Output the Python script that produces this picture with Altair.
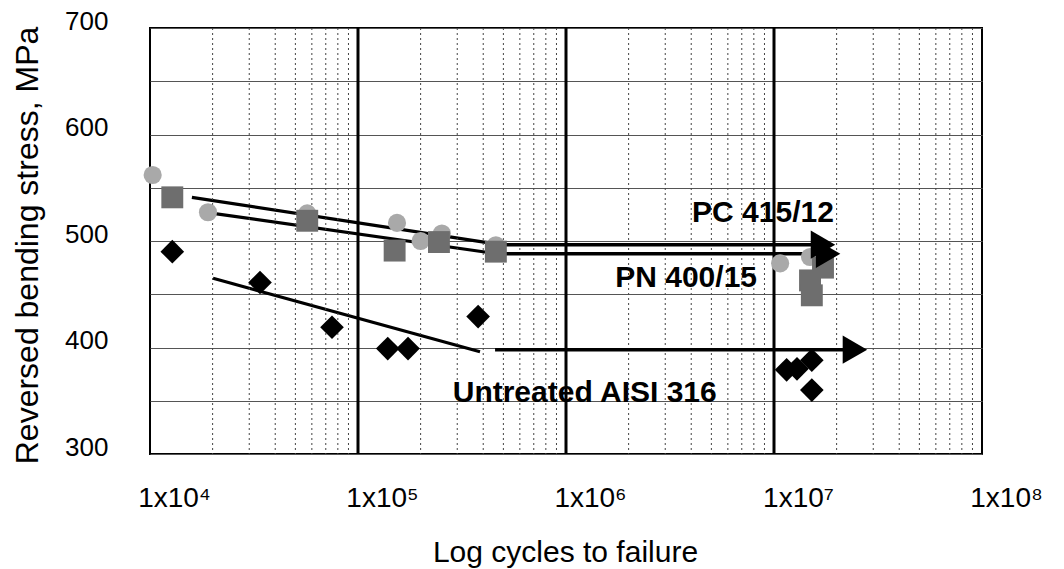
import altair as alt
import pandas as pd

# ---------------- data ----------------
# PC 415/12 (light grey circles)
pc_cycles = [10300, 19000, 57000, 154000, 200000, 253000, 460000, 10700000, 14900000]
pc_stress = [562, 527, 526, 517, 500, 507, 496, 479, 485]
# PN 400/15 (dark grey squares)
pn_cycles = [12800, 57000, 150000, 245000, 460000, 17200000, 14900000, 15200000]
pn_stress = [541, 519, 491, 499, 490, 475, 463, 449]
# Untreated AISI 316 (black diamonds)
un_cycles = [12800, 33800, 75000, 139000, 174000, 378000, 11500000, 12900000, 15200000, 15200000]
un_stress = [490, 461, 419, 399, 399, 429, 379, 380, 388, 360]

# fitted lines
fit_series = ["PC", "PC", "PN", "PN", "UN", "UN"]
fit_cycles = [15900, 466000, 20100, 466000, 20100, 386000]
fit_stress = [541, 497, 526, 488, 465, 396]

# run-out arrows
arrow_start = [466000, 466000, 456000]
arrow_end = [17200000, 18200000, 24500000]
arrow_stress = [496.5, 488, 398]

# labels
label_text = ["PC 415/12", "PN 400/15", "Untreated AISI 316"]
label_cycles = [8850000, 3780000, 1230000]
label_stress = [526, 465, 357]

# axis ticks
decades = [1e4, 1e5, 1e6, 1e7, 1e8]
major_lines = [1e5, 1e6, 1e7]
minor_lines = [m * d for d in [1e4, 1e5, 1e6, 1e7] for m in range(2, 10)]
y_ticks = [300, 350, 400, 450, 500, 550, 600, 650, 700]

FONT = "Liberation Sans"

pc_df = pd.DataFrame({"n": pc_cycles, "s": pc_stress})
pn_df = pd.DataFrame({"n": pn_cycles, "s": pn_stress})
un_df = pd.DataFrame({"n": un_cycles, "s": un_stress})
fit_df = pd.DataFrame({"series": fit_series, "n": fit_cycles, "s": fit_stress})
arr_df = pd.DataFrame({"n": arrow_start, "n2": arrow_end, "s": arrow_stress})
lab_df = pd.DataFrame({"t": label_text, "n": label_cycles, "s": label_stress})
minor_df = pd.DataFrame({"n": minor_lines})
major_df = pd.DataFrame({"n": major_lines})

xs = alt.Scale(type="log", domain=[1e4, 1e8], nice=False)
ys = alt.Scale(domain=[300, 700], nice=False, zero=False)

label_expr = ("datum.value == 10000 ? '1x10⁴' : datum.value == 100000 ? '1x10⁵' : "
              "datum.value == 1000000 ? '1x10⁶' : datum.value == 10000000 ? '1x10⁷' : '1x10⁸'")

x_axis = alt.Axis(values=decades, labelExpr=label_expr, grid=False, ticks=False, domain=False,
                  labelFont=FONT, labelFontSize=28, labelColor="black", labelPadding=30,
                  labelOffset=24, labelOverlap=False, labelFlush=False,
                  title="Log cycles to failure", titleFont=FONT, titleFontSize=30,
                  titleFontWeight="normal", titleColor="black",
                  titleX=415, titleY=98, titleBaseline="middle", titleAlign="center")
y_axis = alt.Axis(values=y_ticks, labelExpr="datum.value % 100 == 0 ? datum.label : ''",
                  grid=True, gridColor="#555555", gridWidth=1.2, ticks=False, domain=False,
                  labelFont=FONT, labelFontSize=26, labelColor="black", labelPadding=42,
                  labelOffset=-7, labelOverlap=False, labelFlush=False,
                  title="Reversed bending stress, MPa", titleFont=FONT, titleFontSize=32,
                  titleFontWeight="normal", titleColor="black",
                  titleX=-123, titleY=217, titleAngle=-90, titleAlign="center",
                  titleBaseline="middle")


def X(field):
    return alt.X(field, type="quantitative", scale=xs, axis=x_axis, title="Log cycles to failure")


def Y(field):
    return alt.Y(field, type="quantitative", scale=ys, axis=y_axis,
                 title="Reversed bending stress, MPa")


minor = alt.Chart(minor_df).mark_rule(color="#444444", strokeWidth=1, strokeDash=[2, 3]).encode(
    x=X("n"),
)
major = alt.Chart(major_df).mark_rule(color="black", strokeWidth=3).encode(
    x=X("n"),
)
fits = alt.Chart(fit_df).mark_line(color="black", strokeWidth=3.2).encode(
    x=X("n"), y=Y("s"), detail="series:N",
)
arrows = alt.Chart(arr_df).mark_rule(color="black", strokeWidth=3.5).encode(
    x=X("n"), x2="n2:Q", y=Y("s"),
)
heads = alt.Chart(arr_df).mark_point(shape="triangle-right", size=800, filled=True,
                                     color="black", opacity=1).encode(
    x=X("n2"), y=Y("s"),
)
pc_pts = alt.Chart(pc_df).mark_point(shape="circle", size=330, filled=True,
                                     color="#a9a9a9", opacity=1).encode(
    x=X("n"), y=Y("s"),
)
pn_pts = alt.Chart(pn_df).mark_point(shape="square", size=480, filled=True,
                                     color="#6e6e6e", opacity=1).encode(
    x=X("n"), y=Y("s"),
)
un_pts = alt.Chart(un_df).mark_point(shape="diamond", size=560, filled=True,
                                     color="black", opacity=1).encode(
    x=X("n"), y=Y("s"),
)
labels = alt.Chart(lab_df).mark_text(font=FONT, fontSize=30, fontWeight="bold", color="black",
                                     align="center", baseline="middle").encode(
    x=X("n"), y=Y("s"), text="t:N",
)

chart = alt.layer(fits, minor, major, arrows, pc_pts, pn_pts, un_pts, heads, labels).properties(
    width=832, height=426,
    autosize=alt.AutoSizeParams(type="none"),
    padding={"left": 150, "top": 28, "right": 82, "bottom": 115},
    background="white",
).configure_view(stroke="black", strokeWidth=2)

chart.save("out.html", embed_options={"renderer": "svg", "actions": False})
